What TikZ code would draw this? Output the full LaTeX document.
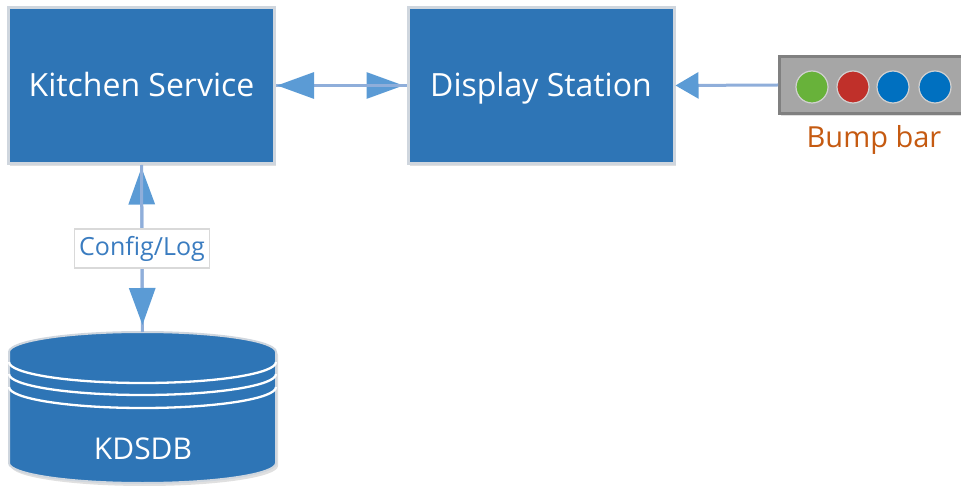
\documentclass[tikz,border=0pt]{standalone}
\usepackage{fontspec}
\setmainfont{Open Sans}
\usetikzlibrary{arrows.meta,shadows}
\definecolor{boxblue}{HTML}{2E75B6}
\definecolor{boxedge}{HTML}{CFD6DE}
\definecolor{linecol}{HTML}{8FAEDA}
\definecolor{tipcol}{HTML}{5B9BD5}
\definecolor{bbgray}{HTML}{A6A6A6}
\definecolor{bbedge}{HTML}{808080}
\definecolor{lgreen}{HTML}{68B23A}
\definecolor{lred}{HTML}{C0302A}
\definecolor{lblue}{HTML}{0070C0}
\definecolor{bbtext}{HTML}{C55A11}
\definecolor{labtext}{HTML}{3A7CC0}
\tikzset{
  svcbox/.style={rectangle, fill=boxblue, draw=boxedge, line width=3pt,
    minimum width=266pt, minimum height=156pt, inner sep=0pt, text=white,
    font=\fontsize{32}{38}\selectfont, text height=23pt, text depth=0pt,
    drop shadow={shadow xshift=1.5pt, shadow yshift=-3pt, fill=black, opacity=0.12}},
  conn/.style={draw=linecol, line width=3pt},
  bigtip/.style={-{Triangle[length=37pt,width=26pt,color=tipcol]}},
  smalltip/.style={-{Triangle[length=23pt,width=26pt,color=tipcol]}},
  lamp/.style={circle, minimum size=32pt, inner sep=0pt, draw=black!18, line width=1.2pt},
  lbl/.style={rectangle, fill=white, draw=black!15, line width=1.5pt, text=labtext,
    font=\fontsize{25}{30}\selectfont, minimum width=135pt, minimum height=39pt, inner sep=1pt}
}
\begin{document}
\begin{tikzpicture}[x=1pt,y=1pt]
\useasboundingbox (0,0) rectangle (961,-486);
% boxes
\node[svcbox] (ks) at (141.5,-85.5) {Kitchen Service};
\node[svcbox] (ds) at (541,-85.5) {Display Station};
% bump bar
\node[rectangle, fill=bbgray, draw=bbedge, line width=3pt, minimum width=211pt,
  minimum height=57pt, inner sep=0pt,
  drop shadow={shadow xshift=1.5pt, shadow yshift=-3pt, fill=black, opacity=0.12}]
  (bb) at (885,-85) {};
\node[lamp, fill=lgreen] (l1) at (812,-87) {};
\node[lamp, fill=lred] (l2) at (853,-87) {};
\node[lamp, fill=lblue] (l3) at (893,-87) {};
\node[lamp, fill=lblue] (l4) at (935,-87) {};
\node[text=bbtext, font=\fontsize{29}{34}\selectfont] (bbl) at (874,-140) {Bump bar};
% database cylinder
\fill[black, opacity=0.12] (11,-355) -- (11,-466) arc[start angle=180,end angle=360,x radius=133.5pt,y radius=20pt]
  -- (278,-355) arc[start angle=0,end angle=180,x radius=133.5pt,y radius=20pt] -- cycle;
\filldraw[fill=boxblue, draw=boxedge, line width=2pt] (9,-352) -- (9,-463)
  arc[start angle=180,end angle=360,x radius=133.5pt,y radius=20pt]
  -- (276,-352) arc[start angle=0,end angle=180,x radius=133.5pt,y radius=20pt] -- cycle;
\foreach \yy in {362,374,387}{
  \draw[white, line width=2.3pt] (9,-\yy) arc[start angle=180,end angle=360,x radius=133.5pt,y radius=21pt];
}
\node[inner sep=0pt, minimum width=267pt, minimum height=151pt, anchor=north] (db) at (142.5,-332) {};
\node[text=white, font=\fontsize{30}{36}\selectfont] (dbl) at (143,-449) {KDSDB};
% connectors
\draw[conn, bigtip, shorten >=3pt] (ks.east) -- (ds.west);
\draw[conn, bigtip, shorten >=1pt] (ds.west) -- (ks.east);
\draw[conn, bigtip, shorten >=2.5pt] (db.north) -- (ks.south);
\draw[conn, bigtip, shorten >=7pt] (ks.south) -- node[lbl] (cl) {Config/Log} (db.north);
\draw[conn, smalltip] (bb.west) -- (ds.east);
\end{tikzpicture}
\end{document}
